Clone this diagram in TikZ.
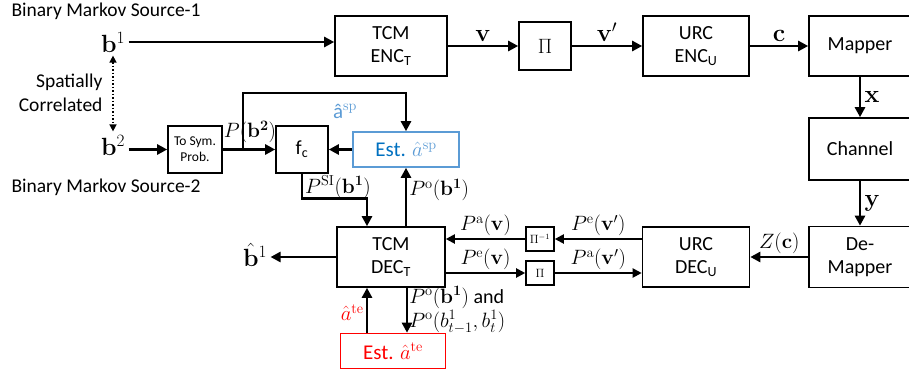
\documentclass[tikz,border=0pt]{standalone}
\usepackage[no-math]{fontspec}
\setmainfont{Carlito}
\usetikzlibrary{arrows.meta}
\definecolor{spblue}{RGB}{91,155,213}
\definecolor{spdark}{RGB}{0,112,192}

\begin{document}
\begin{tikzpicture}[x=1pt,y=1pt,
  blk/.style={draw,line width=1.6pt,align=center,inner sep=0pt,font=\fontsize{20}{23}\selectfont},
  estbox/.style={blk,font=\fontsize{21}{23}\selectfont},
  arr/.style={line width=2.6pt,-{Triangle[length=10pt,width=10pt]}},
  ilarr/.style={line width=2pt,-{Triangle[length=9pt,width=9pt]}},
  lbl/.style={font=\fontsize{20}{24}\selectfont,inner sep=2pt},
  veclbl/.style={font=\fontsize{24}{26}\selectfont},
  txt/.style={font=\fontsize{19.5}{24}\selectfont}]
  \useasboundingbox (0,0) rectangle (909,376);

  % encoder chain
  \node[blk,minimum width=112pt,minimum height=60pt] (enc) at (391,330) {TCM\\ENC\textsubscript{T}};
  \node[blk,minimum width=52pt,minimum height=48pt] (pi1) at (545,330) {$\Pi$};
  \node[blk,minimum width=106pt,minimum height=60pt] (urcenc) at (696,330) {URC\\ENC\textsubscript{U}};
  \node[blk,minimum width=102pt,minimum height=60pt] (mapper) at (860,330) {Mapper};
  \node[blk,minimum width=102pt,minimum height=62pt] (chan) at (860,227) {Channel};
  \node[blk,minimum width=102pt,minimum height=61pt] (demap) at (860,119) {De-\\Mapper};

  % decoder chain
  \node[blk,minimum width=107pt,minimum height=60pt] (urcdec) at (696,119) {URC\\DEC\textsubscript{U}};
  \node[blk,minimum width=28pt,minimum height=24pt,font=\fontsize{12}{13}\selectfont] (pinv) at (540,137) {$\Pi^{-1}$};
  \node[blk,minimum width=28pt,minimum height=24pt,font=\fontsize{12}{13}\selectfont] (pi2) at (540,103) {$\Pi$};
  \node[blk,minimum width=108pt,minimum height=60pt] (dec) at (391,119) {TCM\\DEC\textsubscript{T}};
  \node[estbox,draw=red,text=red,minimum width=105pt,minimum height=35pt] (este) at (393,25) {Est. $\hat{a}^{\mathrm{te}}$};

  % side information part
  \node[blk,minimum width=54pt,minimum height=47pt,font=\fontsize{13.5}{16}\selectfont] (sym) at (195,226.5) {To Sym.\\Prob.};
  \node[blk,minimum width=52pt,minimum height=47pt] (fc) at (302,226.5) {f\textsubscript{c}};
  \node[estbox,draw=spblue,text=spdark,minimum width=106pt,minimum height=35pt] (estsp) at (406,226.5) {Est. \textcolor{spblue}{$\hat{a}^{\mathrm{sp}}$}};

  % sources
  \node[txt,anchor=west] (src1) at (8,365) {Binary Markov Source-1};
  \node[txt,anchor=west] (src2) at (8,189) {Binary Markov Source-2};
  \node[font=\fontsize{26}{28}\selectfont] (b1) at (113,334) {$\mathbf{b}^1$};
  \node[font=\fontsize{26}{28}\selectfont] (b2) at (113,231) {$\mathbf{b}^2$};
  \node[txt,anchor=east,align=right] (corr) at (106,283) {Spatially\\Correlated};
  \node[font=\fontsize{26}{28}\selectfont] (bhat) at (255,121) {$\hat{\mathbf{b}}^1$};
  \draw[dotted,line width=1.5pt,{Triangle[length=7pt,width=7pt]}-{Triangle[length=7pt,width=7pt]}] (b1.south) -- (b2.north);

  % forward path
  \draw[arr] (b1.east) -- (b1.east -| enc.west);
  \draw[arr] (enc) -- node[veclbl,above] {$\mathbf{v}$} (pi1);
  \draw[arr] (pi1) -- node[veclbl,above] {$\mathbf{v}'$} (urcenc);
  \draw[arr] (urcenc) -- node[veclbl,above] {$\mathbf{c}$} (mapper);
  \draw[arr] (mapper) -- node[veclbl,right] {$\mathbf{x}$} (chan);
  \draw[arr] (chan) -- node[veclbl,right] {$\mathbf{y}$} (demap);
  \draw[arr] (demap) -- node[lbl,above] {$Z(\mathbf{c})$} (urcdec);

  % iterative decoding
  \draw[ilarr] (urcdec.west |- pinv) -- node[lbl,above] {$P^{\mathrm{e}}(\mathbf{v}')$} (pinv.east);
  \draw[ilarr] (pinv.west) -- node[lbl,above] {$P^{\mathrm{a}}(\mathbf{v})$} (pinv.west -| dec.east);
  \draw[ilarr] (dec.east |- pi2) -- node[lbl,above] {$P^{\mathrm{e}}(\mathbf{v})$} (pi2.west);
  \draw[ilarr] (pi2.east) -- node[lbl,above] {$P^{\mathrm{a}}(\mathbf{v}')$} (pi2.east -| urcdec.west);
  \draw[arr] (dec.west) -- (dec.west -| bhat.east);

  % spatial correlation
  \draw[arr] (b2.east |- sym) -- (sym.west);
  \draw[arr] (sym) -- (fc);
  \coordinate (fbk) at (243,226.5);
  \draw[arr] (fbk) -- ++(0,56.5) -| (estsp.north);
  \node[lbl] (pb2) at (250,244) {$P(\mathbf{b}^{\mathbf{2}})$};
  \node[font=\fontsize{21}{23}\selectfont,text=spblue] (asp) at (345,265) {â$^{\mathrm{sp}}$};
  \draw[arr] (estsp) -- (fc);
  \draw[arr] (fc.south) -- ++(0,-24.5) -| ([xshift=-24pt]dec.north);
  \node[lbl] (psi) at (338,189) {$P^{\mathrm{SI}}(\mathbf{b}^{\mathbf{1}})$};
  \draw[arr] ([xshift=15pt]dec.north) -- node[lbl,right,pos=0.62] {$P^{\mathrm{o}}(\mathbf{b}^{\mathbf{1}})$} ([xshift=15pt]dec.north |- estsp.south);

  % temporal correlation
  \draw[arr] ([xshift=-26pt]este.north) -- node[lbl,left,text=red,pos=0.45] {$\hat{a}^{\mathrm{te}}$} ([xshift=-26pt]este.north |- dec.south);
  \draw[arr] ([xshift=16pt]dec.south) -- node[lbl,right,align=left,inner sep=1pt] {$P^{\mathrm{o}}(\mathbf{b}^{\mathbf{1}})$ and\\$P^{\mathrm{o}}(b^1_{t-1},b^1_t)$} ([xshift=16pt]dec.south |- este.north);
\end{tikzpicture}
\end{document}
